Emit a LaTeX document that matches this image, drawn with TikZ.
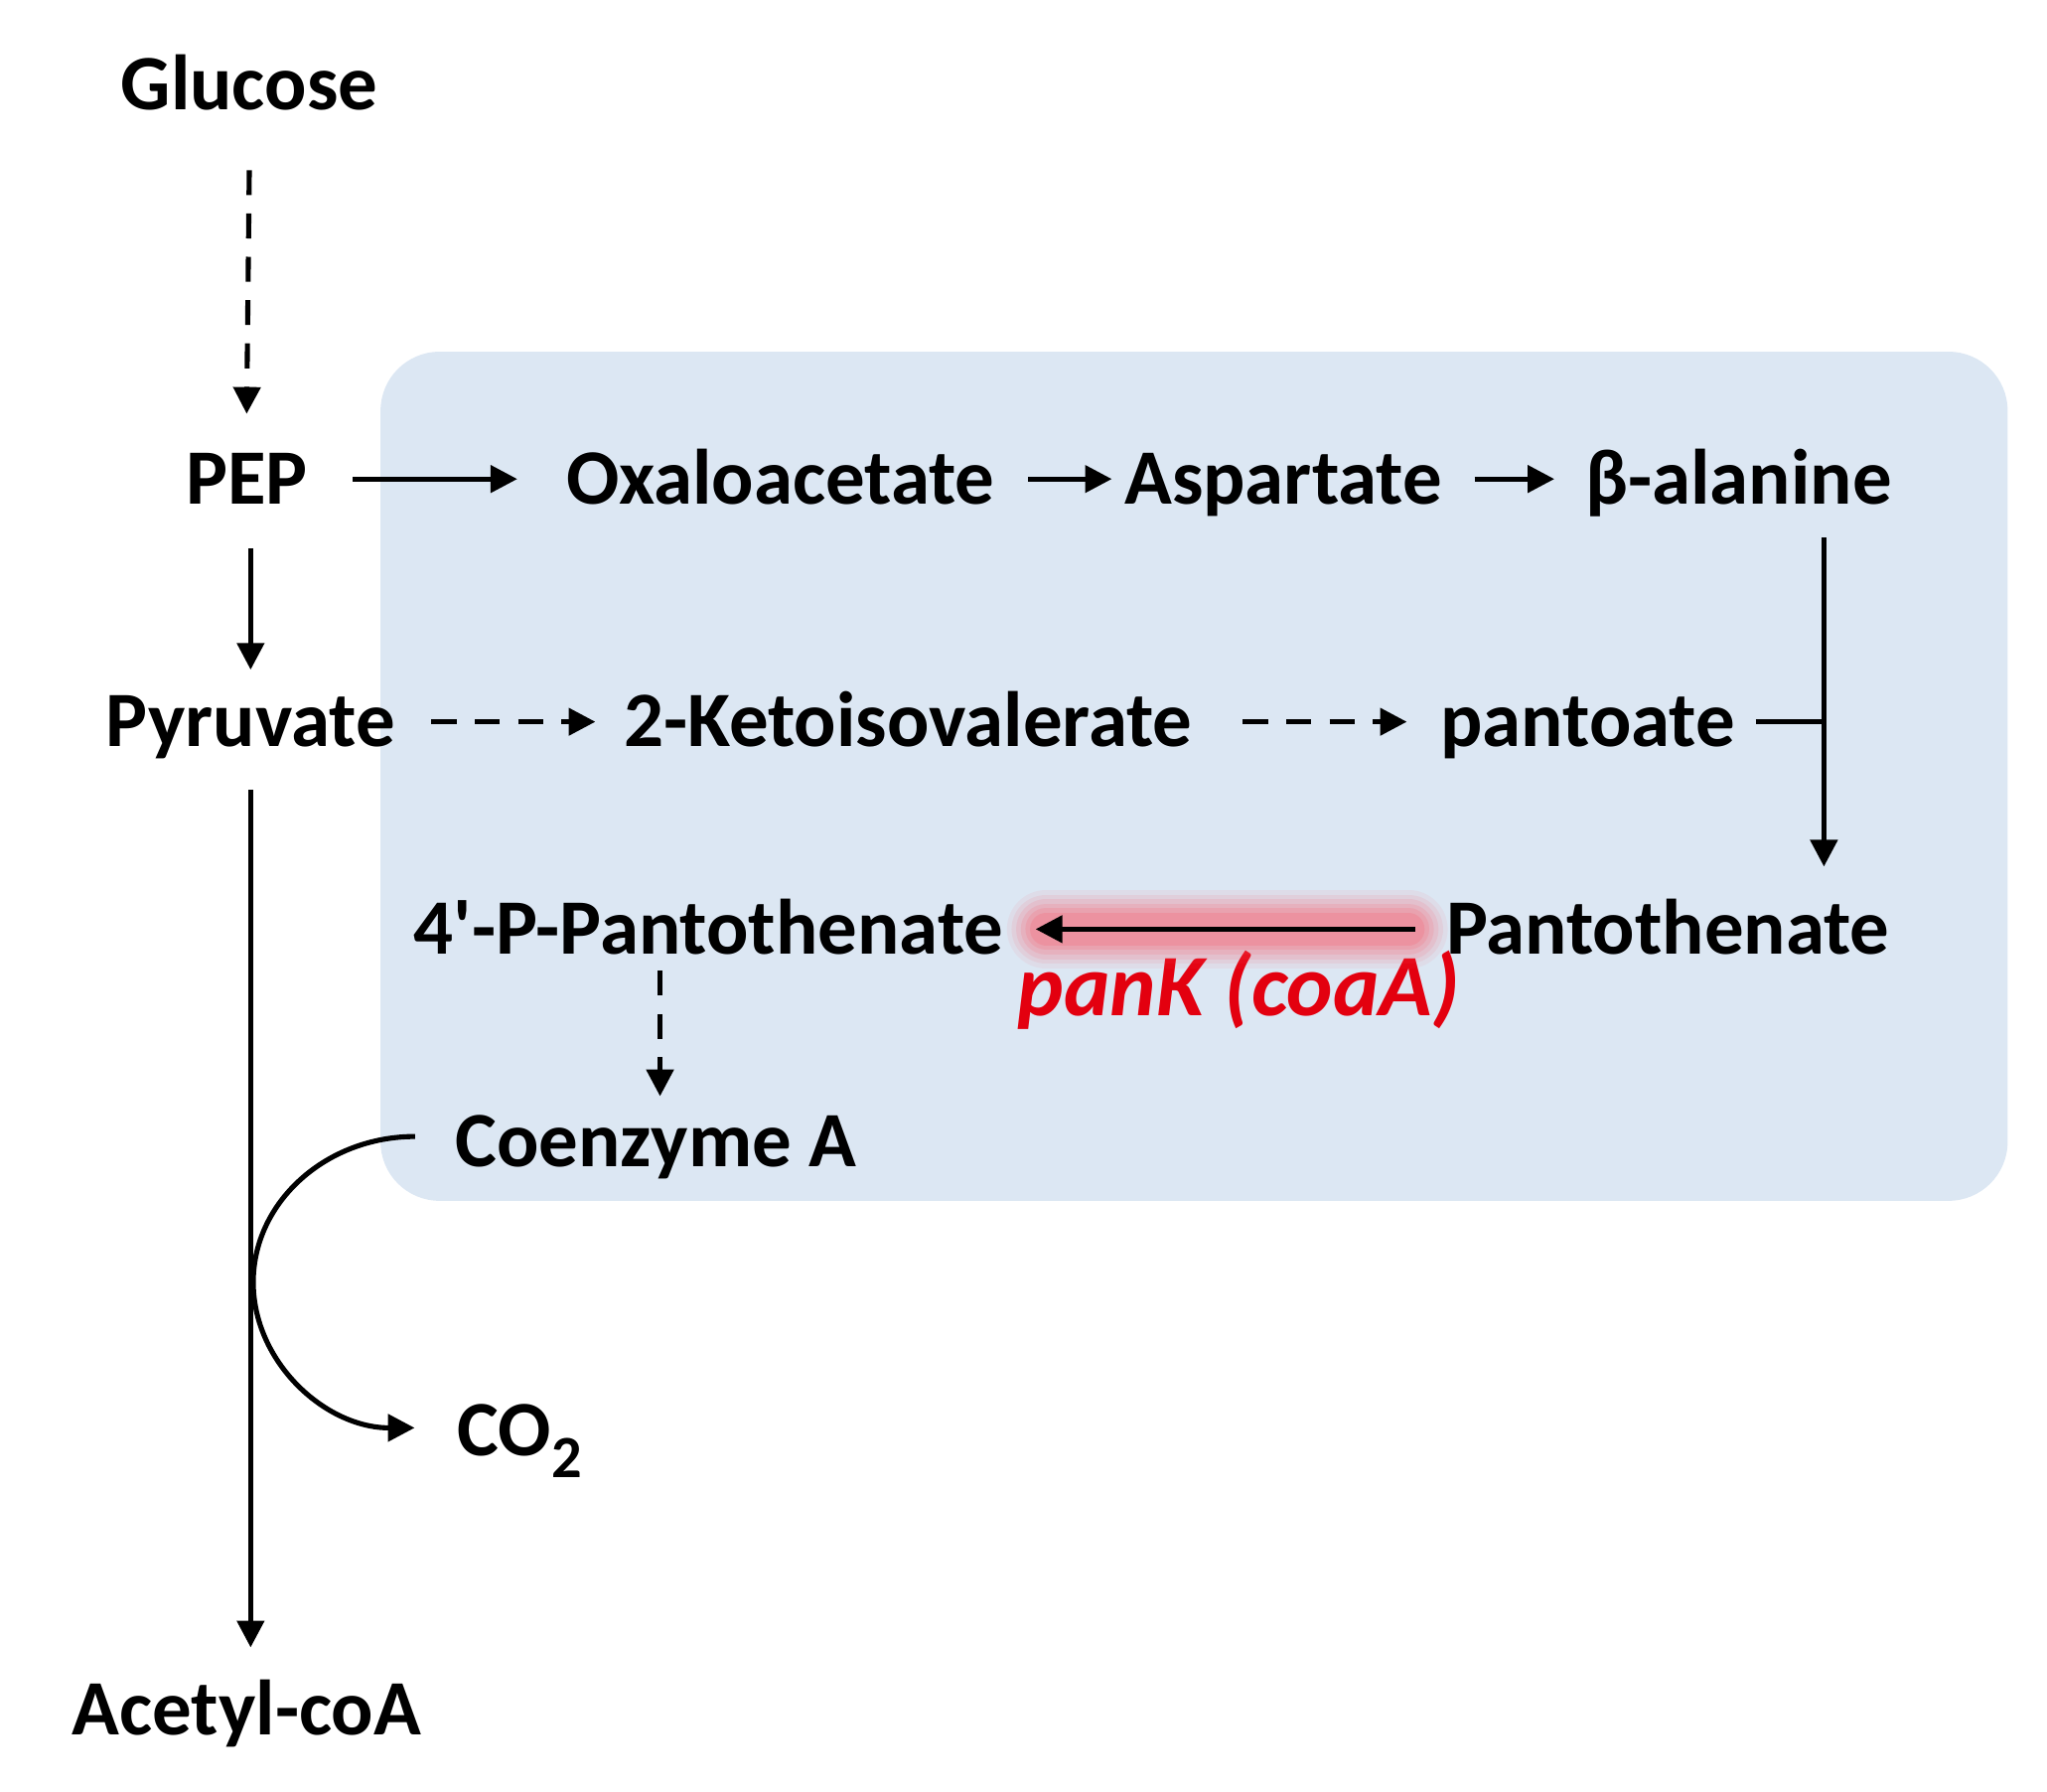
\documentclass[tikz,border=0pt]{standalone}
\usepackage{fontspec}
\setmainfont{Carlito}
\usetikzlibrary{arrows.meta,calc}
\definecolor{boxblue}{HTML}{DCE7F3}
\definecolor{panred}{HTML}{E3000F}
\definecolor{glowred}{HTML}{FF4D5E}
\begin{document}
\begin{tikzpicture}[x=0.1mm,y=-0.1mm,
  lbl/.style={font=\fontsize{17}{20}\selectfont\bfseries, inner sep=0pt, text height=10.8pt, text depth=0pt, anchor=center},
  genelbl/.style={font=\fontsize{19}{23}\selectfont\bfseries\itshape, text=panred, inner sep=0pt, text height=12pt, text depth=0pt, anchor=center},
  arr/.style={line width=1.1pt, -{Triangle[length=5.8pt,width=5.8pt]}},
  darr/.style={arr, dash pattern=on 1.9mm off 1.4mm},
  plainline/.style={line width=1.1pt},
  glowline/.style={line cap=round, color=glowred},
]
\useasboundingbox (0,0) rectangle (1560,1365);
\fill[boxblue, rounded corners=4.5mm] (290,268) rectangle (1530,915);

\node[lbl] (glu) at (190,65) {Glucose};
\node[lbl] (pep) at (188,365) {PEP};
\node[lbl] (oxa) at (595,365) {Oxaloacetate};
\node[lbl] (asp) at (978,365) {Aspartate};
\node[lbl] (bal) at (1325,365) {β-alanine};
\node[lbl] (pyr) at (191,550) {Pyruvate};
\node[lbl] (kiv) at (692,550) {2-Ketoisovalerate};
\node[lbl] (pto) at (1210,550) {pantoate};
\node[lbl] (ppp) at (540,708) {4\textquotesingle-P-Pantothenate};
\node[lbl] (pan) at (1271,708) {Pantothenate};
\node[lbl] (coa) at (500,870) {Coenzyme A};
\node[lbl, anchor=west] (co2) at (348,1090) {CO\raisebox{-0.28em}{\fontsize{13}{13}\selectfont 2}};
\node[lbl] (acc) at (188,1303) {Acetyl-coA};
\node[genelbl] (pk) at (944,753) {panK (coaA)};

% Glucose -> PEP
\draw[darr] ($(glu.south)+(0,45)$) -- ($(pep.north)+(0,-30)$);
% top row
\draw[arr] ($(pep.east)+(34,0)$) -- ($(oxa.west)+(-37,0)$);
\draw[arr] ($(oxa.east)+(25,0)$) -- ($(asp.west)+(-9,0)$);
\draw[arr] ($(asp.east)+(24,0)$) -- ($(bal.west)+(-23,0)$);
% beta-alanine -> Pantothenate, joined by pantoate
\coordinate (bt) at ($(bal.south)+(65,25)$);
\coordinate (pb) at ($(pan.north)+(0,-28)$);
\draw[arr] (bt) -- (bt |- pb);
\draw[plainline] ($(pto.east)+(15,0)$) -- (pto.east -| bt);
% PEP -> Pyruvate
\draw[arr] ($(pep.south)+(3,33)$) -- ($(pep.south |- pyr.north)+(3,-20)$);
% Pyruvate -> 2-Ketoisovalerate -> pantoate
\draw[darr] ($(pyr.east)+(27,0)$) -- ($(kiv.west)+(-21,0)$);
\draw[darr] ($(kiv.east)+(38,0)$) -- ($(pto.west)+(-25,0)$);
% Pyruvate -> Acetyl-coA
\draw[arr] ($(pyr.south)+(0,32)$) -- ($(pyr.south |- acc.north)+(0,-28)$);
% Pantothenate -> 4'-P-Pantothenate (highlighted)
\foreach \w/\o in {17pt/0.07, 15pt/0.09, 13pt/0.11, 11pt/0.13, 9pt/0.15, 7pt/0.18}{
  \draw[glowline, line width=\w, opacity=\o] ($(pan.west)+(-28,0)$) -- ($(ppp.east)+(32,0)$);
}
\draw[arr] ($(pan.west)+(-23,0)$) -- ($(ppp.east)+(24,0)$);
% 4'-P-Pantothenate -> Coenzyme A
\draw[darr] ($(ppp.south)+(-37,12)$) -- ($(coa.north)+(3,-15)$);
% Coenzyme A -> CO2 curve
\coordinate (cs) at ($(coa.west)+(-30,-4)$);
\coordinate (ce) at ($(co2.west)+(-32,-2)$);
\draw[arr] (cs) .. controls +(-68,0) and +(0,-61) .. (193,977)
               .. controls +(0,61) and +(-68,0) .. (ce);
\end{tikzpicture}
\end{document}
